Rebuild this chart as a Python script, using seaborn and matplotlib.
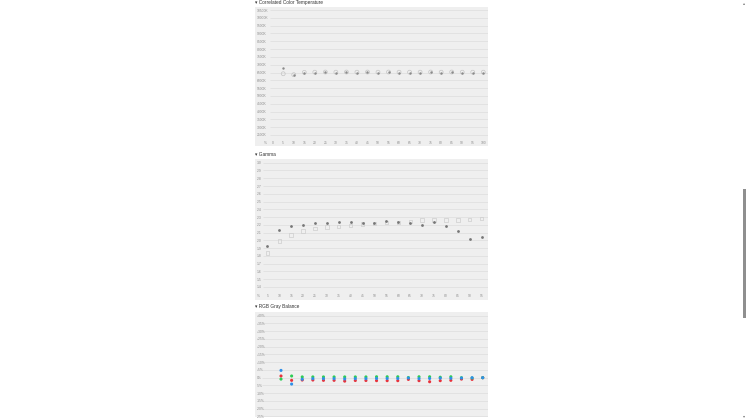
import matplotlib
matplotlib.use("Agg")
import matplotlib.pyplot as plt
import seaborn as sns
import pandas as pd
from matplotlib.patches import Rectangle

sns.set_style("white")
plt.rcParams['font.family'] = ['Liberation Sans', 'DejaVu Sans']

# ---------------- data ----------------
cct_levels = [5, 10, 15, 20, 25, 30, 35, 40, 45, 50, 55, 60, 65, 70, 75, 80, 85, 90, 95, 100]
cct_measured = [6820, 6310, 6490, 6500, 6510, 6500, 6520, 6500, 6510, 6500, 6510, 6500, 6490, 6500, 6520, 6500, 6510, 6490, 6500, 6500]
cct_reference = [6420, 6360, 6510, 6520, 6530, 6520, 6530, 6520, 6530, 6520, 6530, 6520, 6520, 6520, 6530, 6520, 6530, 6520, 6520, 6520]
cct_yticks = [10500, 10000, 9500, 9000, 8500, 8000, 7500, 7000, 6500, 6000, 5500, 5000, 4500, 4000, 3500, 3000, 2500]
cct_xticks = [0, 5, 10, 15, 20, 25, 30, 35, 40, 45, 50, 55, 60, 65, 70, 75, 80, 85, 90, 95, 100]

gamma_levels = [5, 10, 15, 20, 25, 30, 35, 40, 45, 50, 55, 60, 65, 70, 75, 80, 85, 90, 95]
gamma_measured = [1.93, 2.13, 2.19, 2.20, 2.23, 2.22, 2.24, 2.24, 2.23, 2.22, 2.25, 2.24, 2.23, 2.20, 2.24, 2.18, 2.12, 2.02, 2.04]
gamma_reference = [1.84, 1.99, 2.07, 2.12, 2.15, 2.17, 2.18, 2.19, 2.21, 2.22, 2.23, 2.23, 2.24, 2.26, 2.26, 2.26, 2.26, 2.27, 2.28]
gamma_yticks = [3.0, 2.9, 2.8, 2.7, 2.6, 2.5, 2.4, 2.3, 2.2, 2.1, 2.0, 1.9, 1.8, 1.7, 1.6, 1.5, 1.4]
gamma_xticks = [5, 10, 15, 20, 25, 30, 35, 40, 45, 50, 55, 60, 65, 70, 75, 80, 85, 90, 95]

rgb_levels = [5, 10, 15, 20, 25, 30, 35, 40, 45, 50, 55, 60, 65, 70, 75, 80, 85, 90, 95, 100]
rgb_red = [1.1, -1.7, -1.5, -1.5, -1.7, -1.7, -2.2, -1.8, -1.8, -1.9, -1.9, -1.9, -1.1, -1.9, -2.6, -1.9, -1.7, -0.9, -1.1, 0.0]
rgb_green = [-0.9, 1.1, 0.5, 0.5, 0.5, 0.5, 0.5, 0.5, 0.5, 0.6, 0.6, 0.6, 0.1, 0.6, 0.6, 0.3, 0.6, 0.0, -0.2, 0.0]
rgb_blue = [4.7, -4.1, -1.0, -0.6, -0.6, -0.6, -0.8, -0.6, -0.6, -0.5, -0.5, -0.5, -0.2, -0.6, -0.5, -0.3, -0.4, -0.2, 0.0, 0.0]
rgb_yticks = [40, 35, 30, 25, 20, 15, 10, 5, 0, -5, -10, -15, -20, -25, -30, -35, -40]

# ---------------- layout helpers ----------------
W, H = 748, 420
fig = plt.figure(figsize=(W / 100, H / 100), dpi=100)
fig.patch.set_facecolor("white")

PANEL = "#efefef"
GRID = "#e0e0e0"
TICK = "#8c8c8c"
TFS = 2.4


def add_ax(x0, y0, x1, y1):
    ax = fig.add_axes([x0 / W, 1 - y1 / H, (x1 - x0) / W, (y1 - y0) / H])
    ax.set_facecolor(PANEL)
    for s in ax.spines.values():
        s.set_visible(False)
    return ax


def px2data(p0, v0, p1, v1, p):
    return v0 + (p - p0) * (v1 - v0) / (p1 - p0)


def style_ticks(ax, xpad, ypad):
    ax.tick_params(axis="both", length=0, labelsize=TFS, labelcolor=TICK)
    ax.tick_params(axis="y", pad=ypad)
    ax.tick_params(axis="x", pad=xpad)
    for lab in ax.get_yticklabels():
        lab.set_horizontalalignment("left")


def title(y, text):
    fig.text(255 / W, 1 - y / H, "\u25be " + text, fontsize=3.4, color="#333333",
             ha="left", va="center")

# ---------------- panel 1 : CCT ----------------
ax1 = add_ax(255, 7, 488, 146)
cx = lambda p: px2data(272.7, 0, 483.3, 100, p)
cy = lambda p: px2data(135, 2500, 10, 10500, p)
ax1.hlines(cct_yticks, cx(270), cx(488), color=GRID, lw=0.6, zorder=0)
cct_df = pd.DataFrame({"level": cct_levels, "measured": cct_measured, "reference": cct_reference})
sns.scatterplot(data=cct_df, x="level", y="reference", ax=ax1, marker="o", s=8,
                facecolor="none", edgecolor="#c4c4c4", linewidth=0.5, zorder=2)
sns.scatterplot(data=cct_df, x="level", y="measured", ax=ax1, marker="o", s=3,
                color="#8a8a8a", linewidth=0, zorder=3)
ax1.set_yticks(cct_yticks, [f"{v}K" for v in cct_yticks])
ax1.set_xticks([cx(265)] + cct_xticks, ["%"] + [str(v) for v in cct_xticks])
ax1.set_xlim(cx(255), cx(488))
ax1.set_ylim(cy(146), cy(7))
ax1.set_xlabel(""); ax1.set_ylabel("")
style_ticks(ax1, -3.6, -1.5)
title(2.5, "Correlated Color Temperature")

# ---------------- panel 2 : Gamma ----------------
ax2 = add_ax(255, 159, 488, 300)
gx = lambda p: px2data(267.3, 5, 481.7, 95, p)
gy = lambda p: px2data(287, 1.4, 162.7, 3.0, p)
ax2.hlines(gamma_yticks, gx(263), gx(488), color=GRID, lw=0.6, zorder=0)
g_df = pd.DataFrame({"level": gamma_levels, "measured": gamma_measured, "reference": gamma_reference})
sns.scatterplot(data=g_df, x="level", y="reference", ax=ax2, marker="s", s=6,
                facecolor="none", edgecolor="#cdcdcd", linewidth=0.5, zorder=2)
sns.scatterplot(data=g_df, x="level", y="measured", ax=ax2, marker="o", s=4,
                color="#767676", linewidth=0, zorder=3)
ax2.set_yticks(gamma_yticks, [f"{v:.1f}" for v in gamma_yticks])
ax2.set_xticks([gx(258)] + gamma_xticks, ["%"] + [str(v) for v in gamma_xticks])
ax2.set_xlim(gx(255), gx(488))
ax2.set_ylim(gy(300), gy(159))
ax2.set_xlabel(""); ax2.set_ylabel("")
style_ticks(ax2, -4.2, -1.2)
title(154.7, "Gamma")

# ---------------- panel 3 : RGB Gray Balance ----------------
ax3 = add_ax(255, 312, 488, 417)
rx = lambda p: px2data(281, 5, 482.7, 100, p)
ry = lambda p: px2data(377.7, 0, 315.7, 40, p)
ax3.hlines(rgb_yticks, rx(262), rx(488), color=GRID, lw=0.6, zorder=0)
rgb_df = pd.DataFrame({"level": rgb_levels * 3,
                       "delta": rgb_red + rgb_green + rgb_blue,
                       "channel": ["R"] * len(rgb_levels) + ["G"] * len(rgb_levels) + ["B"] * len(rgb_levels)})
sns.scatterplot(data=rgb_df, x="level", y="delta", hue="channel", ax=ax3, marker="o", s=5,
                palette={"R": "#e8323c", "G": "#2ecc55", "B": "#2f8fe8"}, linewidth=0,
                legend=False, zorder=3)
ax3.set_yticks(rgb_yticks, [("+" if v > 0 else "") + f"{v}%" for v in rgb_yticks])
ax3.set_xticks([])
ax3.set_xlim(rx(255), rx(488))
ax3.set_ylim(ry(417), ry(312))
ax3.set_xlabel(""); ax3.set_ylabel("")
style_ticks(ax3, 0, -1.2)
title(306.7, "RGB Gray Balance")

# ---------------- browser scrollbar ----------------
fig.patches.append(Rectangle((743 / W, 1 - 318 / H), 3 / W, 129 / H, transform=fig.transFigure,
                             facecolor="#8f8f8f", edgecolor="none"))
fig.text(744.5 / W, 1 - 3 / H, "\u25b4", fontsize=3, color="#777777", ha="center", va="center")
fig.text(744.5 / W, 1 - 416 / H, "\u25be", fontsize=3, color="#777777", ha="center", va="center")

fig.savefig("out.png", dpi=100, facecolor="white")
